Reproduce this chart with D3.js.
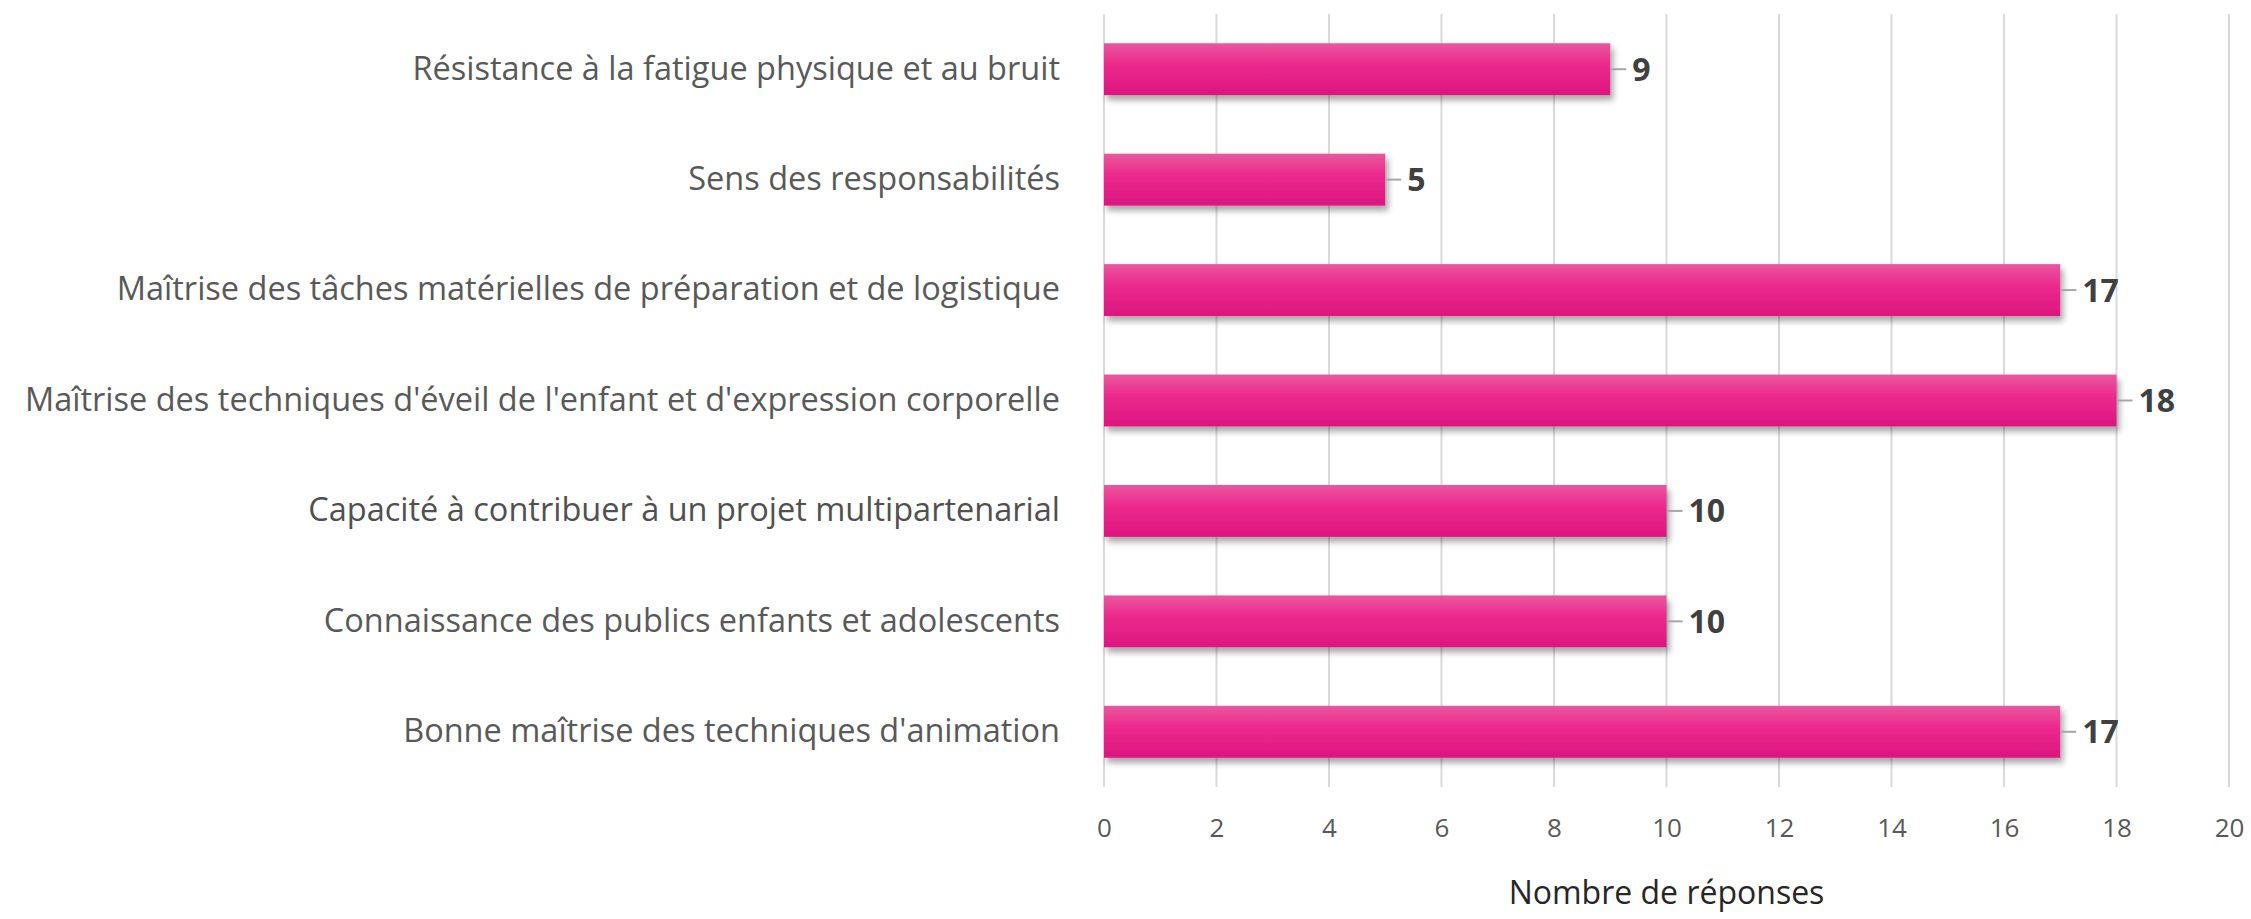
<!DOCTYPE html>
<html>
<head>
<meta charset="utf-8">
<script src="https://cdn.jsdelivr.net/npm/d3@7"></script>
<style>
  body { margin: 0; background: #fff; }
  text { font-family: "Open Sans", sans-serif; }
</style>
</head>
<body>
<svg id="chart"></svg>
<script>
const categories = [
  "Résistance à la fatigue physique et au bruit",
  "Sens des responsabilités",
  "Maîtrise des tâches matérielles de préparation et de logistique",
  "Maîtrise des techniques d'éveil de l'enfant et d'expression corporelle",
  "Capacité à contribuer à un projet multipartenarial",
  "Connaissance des publics enfants et adolescents",
  "Bonne maîtrise des techniques d'animation"
];
const reponses = [9, 5, 17, 18, 10, 10, 17];
const xTicks = [0, 2, 4, 6, 8, 10, 12, 14, 16, 18, 20];
const xTitle = "Nombre de réponses";

const W = 2251, H = 919;
const margin = { top: 14, right: 22, bottom: 132, left: 1104 };
const width = W - margin.left - margin.right;
const height = H - margin.top - margin.bottom;

const svg = d3.select("#chart")
  .attr("width", W)
  .attr("height", H);

const defs = svg.append("defs");
const grad = defs.append("linearGradient")
  .attr("id", "barGrad")
  .attr("x1", 0).attr("y1", 0).attr("x2", 0).attr("y2", 1);
grad.append("stop").attr("offset", "0%").attr("stop-color", "#e9589e");
grad.append("stop").attr("offset", "40%").attr("stop-color", "#ec2a8c");
grad.append("stop").attr("offset", "100%").attr("stop-color", "#dd1580");

const shadow = defs.append("filter")
  .attr("id", "shadow")
  .attr("x", "-5%").attr("y", "-20%").attr("width", "115%").attr("height", "160%");
shadow.append("feDropShadow")
  .attr("dx", 3).attr("dy", 5).attr("stdDeviation", 3)
  .attr("flood-color", "#000").attr("flood-opacity", 0.35);

const g = svg.append("g")
  .attr("transform", "translate(" + margin.left + "," + margin.top + ")");

const x = d3.scaleLinear()
  .domain([0, 20])
  .range([0, width]);

const y = d3.scaleBand()
  .domain(categories)
  .range([0, height])
  .paddingInner(0.53)
  .paddingOuter(0.265);

// gridlines
g.selectAll(".grid")
  .data(xTicks)
  .enter().append("line")
  .attr("class", "grid")
  .attr("x1", d => x(d)).attr("x2", d => x(d))
  .attr("y1", 0).attr("y2", height)
  .attr("stroke", "#d9d9d9")
  .attr("stroke-width", 2);

// x axis tick labels
const xAxis = g.append("g")
  .attr("transform", "translate(0," + height + ")")
  .call(d3.axisBottom(x).tickValues(xTicks).tickSize(0).tickPadding(32));
xAxis.select(".domain").remove();
xAxis.selectAll("text")
  .style("font-family", "'Open Sans', sans-serif")
  .style("font-size", "26px")
  .attr("fill", "#595959");

// category labels
const yAxis = g.append("g")
  .attr("transform", "translate(-44,0)")
  .call(d3.axisLeft(y).tickSize(0).tickPadding(0));
yAxis.select(".domain").remove();
yAxis.selectAll("text")
  .style("font-family", "'Open Sans', sans-serif")
  .style("font-size", "32.5px")
  .attr("fill", d => d === categories[4] ? "#505050" : "#595959");

// bars
g.selectAll(".bar")
  .data(reponses)
  .enter().append("rect")
  .attr("class", "bar")
  .attr("x", x(0))
  .attr("y", (d, i) => y(categories[i]))
  .attr("width", d => x(d) - x(0))
  .attr("height", y.bandwidth())
  .attr("fill", "url(#barGrad)")
  .attr("filter", "url(#shadow)");

// leader lines and value labels
g.selectAll(".leader")
  .data(reponses)
  .enter().append("line")
  .attr("class", "leader")
  .attr("x1", d => x(d) + 1).attr("x2", d => x(d) + 16)
  .attr("y1", (d, i) => y(categories[i]) + y.bandwidth() / 2)
  .attr("y2", (d, i) => y(categories[i]) + y.bandwidth() / 2)
  .attr("stroke", "#a6a6a6")
  .attr("stroke-width", 2);

g.selectAll(".val")
  .data(reponses)
  .enter().append("text")
  .attr("class", "val")
  .attr("x", d => x(d) + 22)
  .attr("y", (d, i) => y(categories[i]) + y.bandwidth() / 2)
  .attr("dy", "0.36em")
  .style("font-size", "32px")
  .style("font-weight", "bold")
  .attr("fill", "#404040")
  .text(d => d);

// axis title
svg.append("text")
  .attr("x", margin.left + width / 2)
  .attr("y", 904)
  .attr("text-anchor", "middle")
  .style("font-size", "32px")
  .attr("fill", "#262626")
  .text(xTitle);
</script>
</body>
</html>
